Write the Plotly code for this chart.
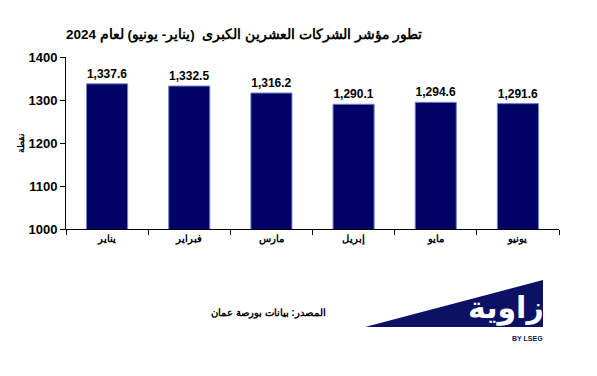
import plotly.graph_objects as go

months = ["يناير", "فبراير", "مارس", "إبريل", "مايو", "يونيو"]
values = [1337.6, 1332.5, 1316.2, 1290.1, 1294.6, 1291.6]
value_labels = ["1,337.6", "1,332.5", "1,316.2", "1,290.1", "1,294.6", "1,291.6"]
y_ticks = [1000, 1100, 1200, 1300, 1400]

W, H = 597, 376
OFF = 8  # page body margin
# target screen pixel positions of plot area
X0, X1, Y0, Y1 = 66, 559, 57, 229
L = X0 - OFF
T = Y0 - OFF
R = W - (X1 - OFF)
B = H - (Y1 - OFF)

def px(x):
    return (x - X0) / (X1 - X0)

def py(y):
    return (Y1 - y) / (Y1 - Y0)

fig = go.Figure()
fig.add_trace(go.Bar(
    x=months, y=values, text=[f"<b>{t}</b>" for t in value_labels], textposition="outside",
    textfont=dict(family="Liberation Sans, Arial", size=12, color="#000000"),
    marker=dict(color="#000066", line=dict(color="#6f86c4", width=1)),
    width=0.5, cliponaxis=False,
))

fig.update_layout(
    width=W, height=H,
    margin=dict(l=L, r=R, t=T, b=B),
    paper_bgcolor="white", plot_bgcolor="white",
    showlegend=False,
    font=dict(family="Liberation Sans, Arial", color="#000000"),
    xaxis=dict(
        showline=True, linecolor="#000000", linewidth=1,
        ticks="outside", ticklen=5, tickcolor="#000000",
        tickson="boundaries",
        tickfont=dict(family="Liberation Sans, Arial", size=10, color="#000000", weight="bold"),
        showgrid=False,
    ),
    yaxis=dict(
        range=[1000, 1400], tickvals=y_ticks,
        showline=True, linecolor="#000000", linewidth=1,
        ticks="outside", ticklen=5, tickcolor="#000000",
        tickfont=dict(family="Liberation Sans, Arial", size=13, color="#000000", weight="bold"),
        showgrid=False, zeroline=False,
    ),
)

# Title
fig.add_annotation(
    x=px(244), y=py(35), xref="paper", yref="paper", xanchor="center", yanchor="middle",
    text="<b>تطور مؤشر الشركات العشرين الكبرى  (يناير- يونيو) لعام 2024</b>",
    showarrow=False, font=dict(family="Liberation Sans, Arial", size=13.5, color="#000000"),
)
# Y label
fig.add_annotation(
    x=px(21), y=py(143), xref="paper", yref="paper", xanchor="center", yanchor="middle",
    text="<b>نقطة</b>", textangle=-90, showarrow=False,
    font=dict(family="Liberation Sans, Arial", size=9, color="#000000"),
)
# Source
fig.add_annotation(
    x=px(268), y=py(313), xref="paper", yref="paper", xanchor="center", yanchor="middle",
    text="<b>المصدر: بيانات بورصة عمان</b>", showarrow=False,
    font=dict(family="Liberation Sans, Arial", size=10, color="#000000"),
)
# Logo triangle
fig.add_shape(
    type="path", xref="paper", yref="paper",
    path=f"M {px(365)} {py(327)} L {px(543)} {py(280)} L {px(543)} {py(327)} Z",
    fillcolor="#0c1163", line=dict(width=0),
)
fig.add_annotation(
    x=px(546), y=py(306), xref="paper", yref="paper", xanchor="right", yanchor="middle",
    text="<b>زاوية</b>", showarrow=False,
    font=dict(family="Noto Sans, DejaVu Sans", size=30, color="#ffffff"),
)
fig.add_annotation(
    x=px(545), y=py(338), xref="paper", yref="paper", xanchor="right", yanchor="middle",
    text="<b>BY LSEG</b>", showarrow=False,
    font=dict(family="Liberation Sans, Arial", size=7, color="#0c1163"),
)

fig.write_html("out.html")
